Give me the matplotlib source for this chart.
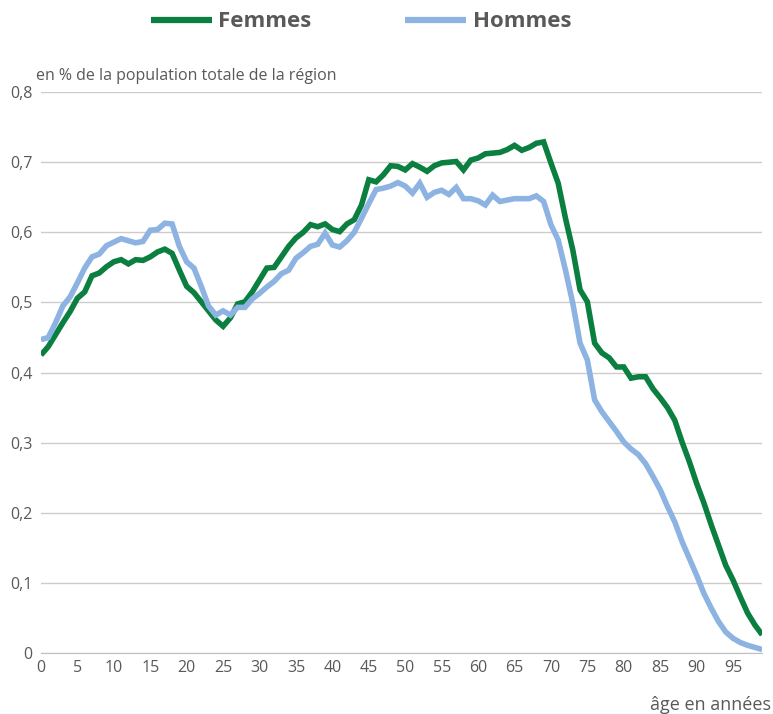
import numpy as np
import matplotlib.pyplot as plt
from matplotlib.ticker import FuncFormatter

# ─── Data: share of regional population by single year of age ───────────────
ages = np.arange(0, 100)

femmes = [
    0.425, 0.437, 0.454, 0.471, 0.487, 0.506, 0.515, 0.538, 0.542, 0.551,
    0.558, 0.561, 0.555, 0.561, 0.560, 0.565, 0.572, 0.576, 0.570, 0.546,
    0.523, 0.514, 0.501, 0.488, 0.475, 0.466, 0.478, 0.498, 0.501, 0.515,
    0.532, 0.549, 0.550, 0.565, 0.580, 0.592, 0.600, 0.611, 0.608, 0.612,
    0.604, 0.601, 0.612, 0.618, 0.639, 0.675, 0.672, 0.682, 0.695, 0.694,
    0.689, 0.698, 0.693, 0.687, 0.695, 0.699, 0.700, 0.701, 0.689, 0.703,
    0.706, 0.712, 0.713, 0.714, 0.718, 0.724, 0.717, 0.721, 0.727, 0.729,
    0.699, 0.670, 0.620, 0.575, 0.518, 0.501, 0.442, 0.428, 0.421, 0.408,
    0.408, 0.392, 0.394, 0.394, 0.377, 0.364, 0.350, 0.332, 0.301, 0.273,
    0.242, 0.214, 0.183, 0.154, 0.125, 0.104, 0.080, 0.057, 0.040, 0.026,
]

hommes = [
    0.447, 0.450, 0.471, 0.495, 0.508, 0.528, 0.549, 0.565, 0.569, 0.581,
    0.586, 0.591, 0.588, 0.585, 0.587, 0.603, 0.604, 0.613, 0.612, 0.580,
    0.558, 0.549, 0.523, 0.495, 0.482, 0.488, 0.482, 0.493, 0.493, 0.505,
    0.513, 0.522, 0.530, 0.541, 0.546, 0.563, 0.571, 0.580, 0.583, 0.599,
    0.582, 0.579, 0.588, 0.600, 0.620, 0.641, 0.661, 0.663, 0.666, 0.671,
    0.666, 0.656, 0.670, 0.650, 0.657, 0.660, 0.654, 0.664, 0.648, 0.648,
    0.645, 0.639, 0.653, 0.644, 0.646, 0.648, 0.648, 0.648, 0.652, 0.644,
    0.611, 0.589, 0.546, 0.499, 0.442, 0.418, 0.361, 0.344, 0.330, 0.316,
    0.301, 0.291, 0.283, 0.270, 0.252, 0.233, 0.209, 0.187, 0.159, 0.135,
    0.111, 0.085, 0.064, 0.045, 0.030, 0.021, 0.015, 0.011, 0.008, 0.005,
]

series_names = ["Femmes", "Hommes"]
series_colors = ["#0a7f40", "#8db3e2"]
x_ticks = list(range(0, 100, 5))
y_ticks = [0, 0.1, 0.2, 0.3, 0.4, 0.5, 0.6, 0.7, 0.8]

# ─── Figure ────────────────────────────────────────────────────────────────
plt.rcParams["font.family"] = ["Open Sans", "DejaVu Sans"]
TXT = "#595959"

fig = plt.figure(figsize=(7.73, 7.14), dpi=100)
ax = fig.add_axes([0.053, 0.0854, 0.933, 0.7856])

for vals, name, col in zip([femmes, hommes], series_names, series_colors):
    ax.plot(ages, vals, color=col, lw=4, label=name,
            solid_joinstyle="miter", solid_capstyle="butt")

ax.set_xlim(0, 99)
ax.set_ylim(0, 0.8)
ax.set_xticks(x_ticks)
ax.set_yticks(y_ticks)
ax.yaxis.set_major_formatter(
    FuncFormatter(lambda v, _: "0" if v == 0 else f"{v:.1f}".replace(".", ",")))

ax.grid(axis="y", color="#cccccc", lw=1)
ax.set_axisbelow(True)
for side in ["top", "right", "left"]:
    ax.spines[side].set_visible(False)
ax.spines["bottom"].set_color("#bfbfbf")
ax.tick_params(axis="both", length=0, labelsize=11.5, labelcolor=TXT)
ax.tick_params(axis="x", pad=5)
ax.tick_params(axis="y", pad=6)

fig.text(0.047, 0.893, "en % de la population totale de la région",
         fontsize=11.5, color=TXT, ha="left", va="center")
fig.text(0.998, 0.0, "âge en années", fontsize=13, color=TXT,
         ha="right", va="bottom")

leg = fig.legend(loc="upper center", bbox_to_anchor=(0.467, 1.012), ncol=2,
                 frameon=False, handlelength=2.75, columnspacing=4.2,
                 handletextpad=0.3, prop={"weight": "bold", "size": 16})
for t in leg.get_texts():
    t.set_color(TXT)
for h in leg.get_lines():
    h.set_linewidth(4.5)

fig.savefig("out.png", dpi=100)
